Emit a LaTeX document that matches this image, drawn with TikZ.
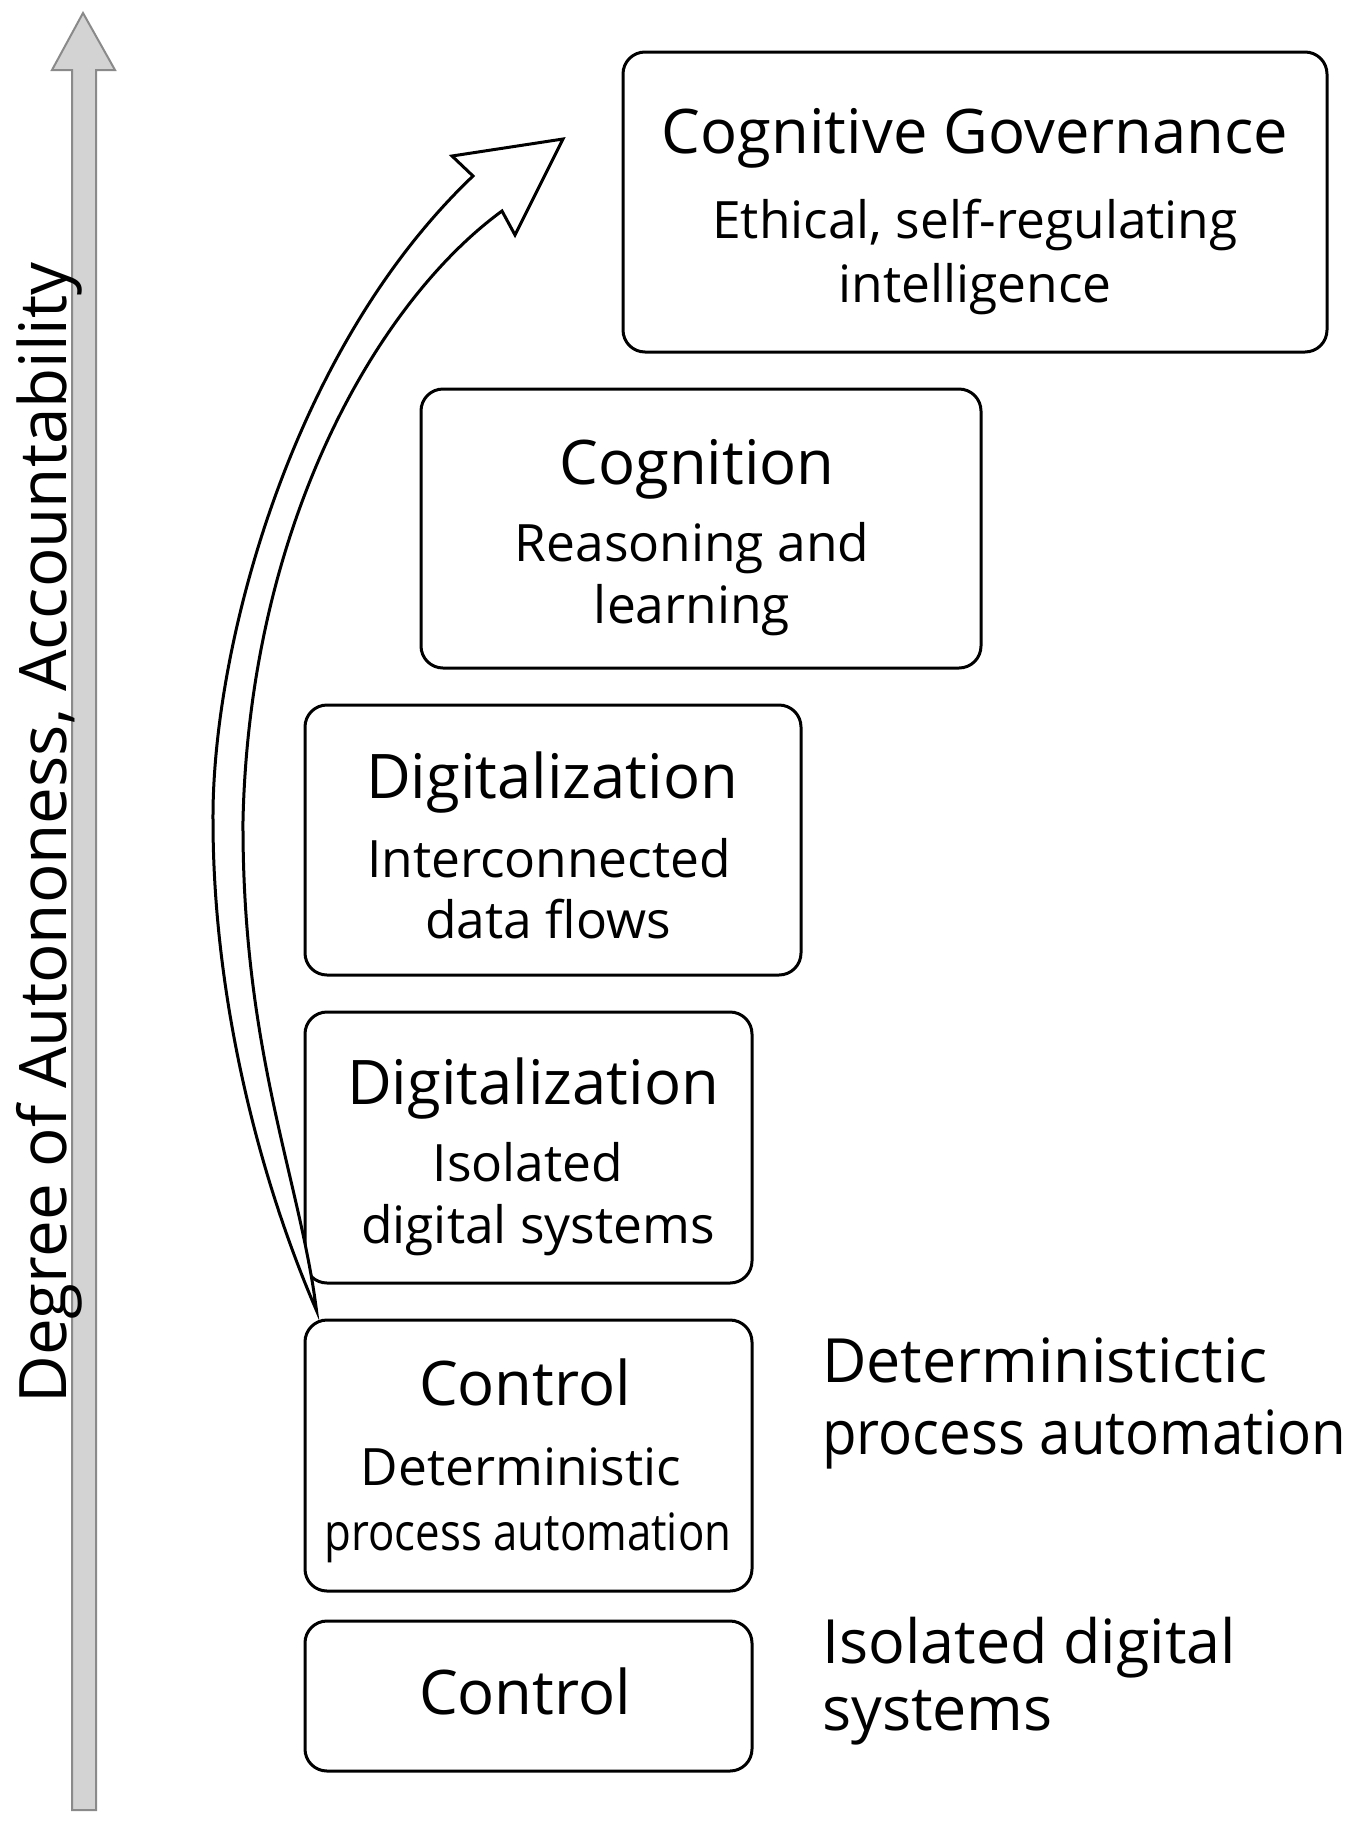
\documentclass[tikz,border=0pt]{standalone}
\usepackage{fontspec}
\setmainfont{Open Sans}
\usetikzlibrary{calc}
\definecolor{axfill}{HTML}{D3D3D3}
\definecolor{axline}{HTML}{8A8A8A}
\begin{document}
\begin{tikzpicture}[x=1pt,y=-1pt,
  box/.style={draw=black, line width=3pt, rounded corners=22pt, fill=white, inner sep=0pt},
  ttl/.style={anchor=base, font=\fontsize{61.5}{72}\selectfont, inner sep=0pt},
  sub/.style={anchor=base, font=\fontsize{51.5}{60}\selectfont, inner sep=0pt},
  side/.style={anchor=base west, font=\fontsize{61}{72}\selectfont, inner sep=0pt},
  axislabel/.style={rotate=90, anchor=base, font=\fontsize{65.5}{76}\selectfont, inner sep=0pt}]
\useasboundingbox (0,0) rectangle (1355,1821);

% vertical axis arrow
\draw[axline, fill=axfill, line width=2pt, line join=miter]
  (83,13) -- (115,70) -- (96,70) -- (96,1810) -- (72,1810) -- (72,70) -- (52,70) -- cycle;
\node[axislabel] (axlab) at (66,833) {Degree of Autononess, Accountability};

% boxes
\node[box, minimum width=704pt, minimum height=300pt] (b1) at (975,202) {};
\node[box, minimum width=560pt, minimum height=279pt] (b2) at (701,528.5) {};
\node[box, minimum width=496pt, minimum height=270pt] (b3) at (553,840) {};
\node[box, minimum width=447pt, minimum height=271pt] (b4) at (528.5,1147.5) {};
\node[box, minimum width=447pt, minimum height=271pt] (b5) at (528.5,1455.5) {};
\node[box, minimum width=447pt, minimum height=150pt] (b6) at (528.5,1696) {};

% curved arrow
\coordinate (cs) at ($(b5.north west)+(13,-8)$);
\draw[line width=3pt, fill=white, line join=miter] (cs)
  .. controls (260,1180) and (213,1000) .. (213,820)
  .. controls (212,650) and (290,350) .. (473,176)
  -- (452,156) -- (563,139) -- (515,235) -- (502,211)
  .. controls (380,300) and (250,520) .. (243,820)
  .. controls (242,1050) and (300,1180) .. (cs) -- cycle;

% texts
\node[ttl] (t1) at (975,153) {Cognitive Governance};
\node[sub] (s1a) at (975,238) {Ethical, self-regulating};
\node[sub] (s1b) at (975,302) {intelligence};

\node[ttl] (t2) at (697,484) {Cognition};
\node[sub] (s2a) at (692,561) {Reasoning and};
\node[sub] (s2b) at (692,623) {learning};

\node[ttl] (t3) at (552,798) {Digitalization};
\node[sub] (s3a) at (549,877) {Interconnected};
\node[sub] (s3b) at (548,938) {data flows};

\node[ttl] (t4) at (533,1104) {Digitalization};
\node[sub] (s4a) at (528,1181) {Isolated};
\node[sub] (s4b) at (538,1243) {digital systems};

\node[ttl] (t5) at (525,1405) {Control};
\node[sub] (s5a) at (521,1485) {Deterministic};
\node[sub] (s5b) at (528,1550) {\scalebox{0.85}[1]{process automation}};

\node[ttl] (t6) at (525,1714) {Control};

\node[side] (r1) at (822,1382) {Deterministictic};
\node[side] (r2) at (822,1454) {\scalebox{0.925}[1]{process automation}};
\node[side] (r3) at (822,1663) {Isolated digital};
\node[side] (r4) at (822,1730) {systems};
\end{tikzpicture}
\end{document}
